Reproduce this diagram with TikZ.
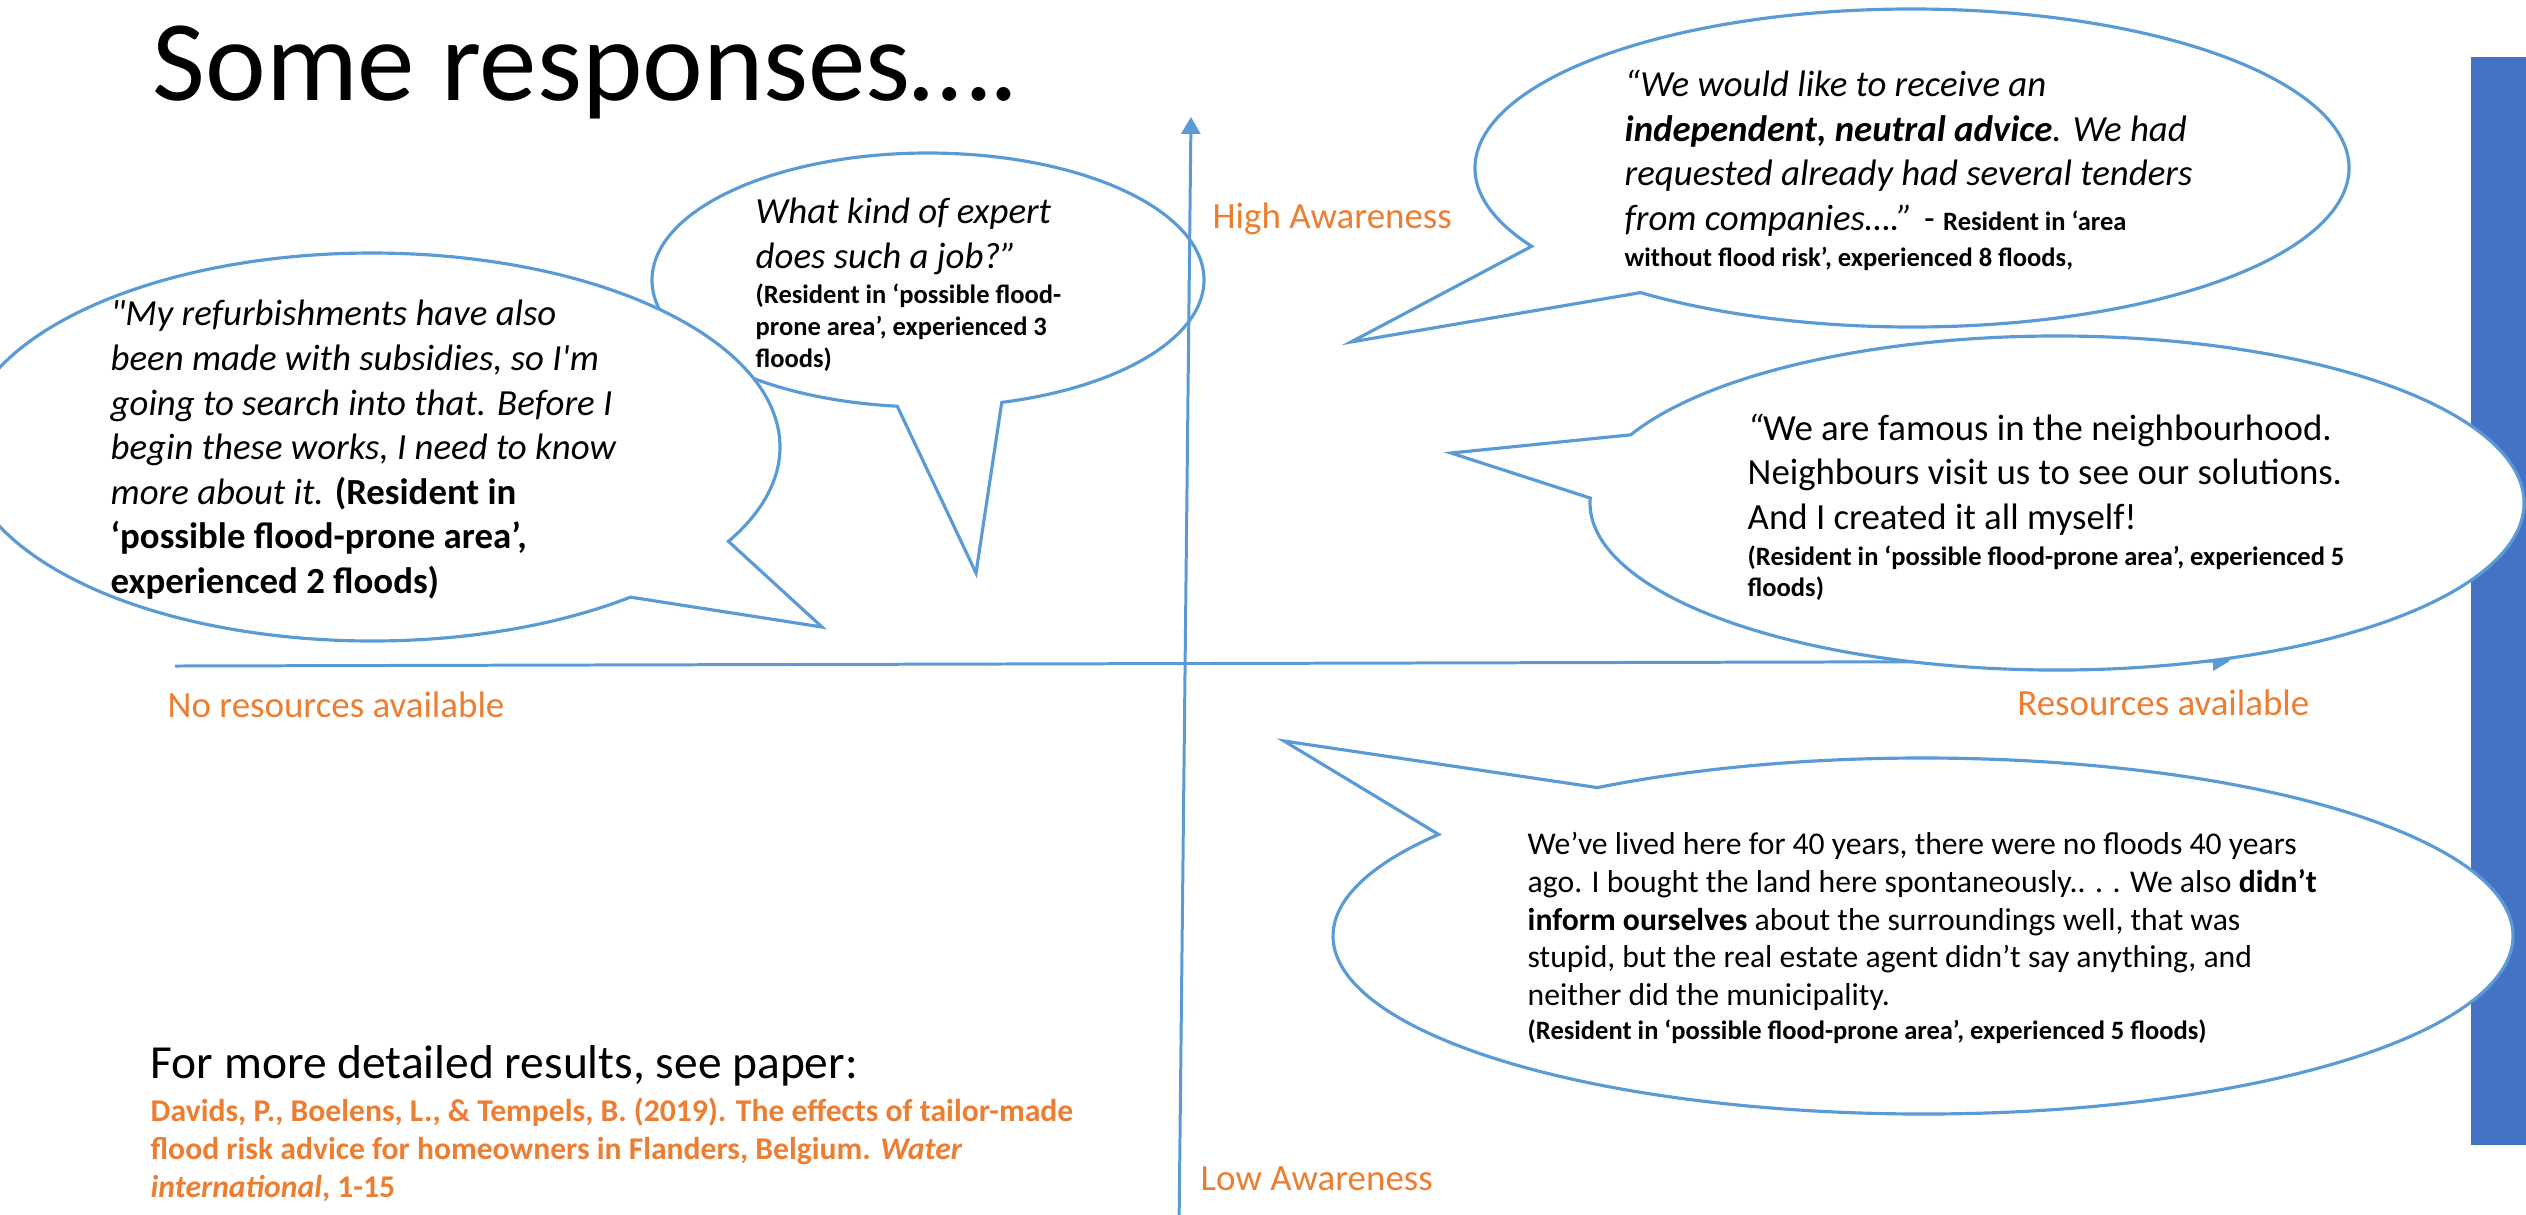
\documentclass[tikz,border=0pt]{standalone}
\usepackage{fontspec}
\setmainfont{Carlito}[Ligatures=TeXOff]
\usepackage{xcolor}
\usepackage{tikz}
\usetikzlibrary{arrows.meta}

\definecolor{bubbleblue}{HTML}{5B9BD5}
\definecolor{labelorange}{HTML}{ED7D31}
\definecolor{barblue}{HTML}{4472C4}

\newcommand{\residentfont}{\bfseries\fontsize{7.54pt}{9.1pt}\selectfont}

\begin{document}
\begin{tikzpicture}[x=0.01cm, y=-0.01cm,
  bubble/.style={draw=bubbleblue, line width=0.9pt, fill=white},
  axis/.style={draw=bubbleblue, line width=0.85pt, -{Triangle[length=4.8pt,width=5.4pt]}},
  quote/.style={anchor=base west, inner sep=0pt, font=\fontsize{10.47pt}{12.7pt}\selectfont},
  story/.style={anchor=base west, inner sep=0pt, font=\fontsize{9pt}{10.8pt}\selectfont},
  paper/.style={anchor=base west, inner sep=0pt, text=labelorange, font=\bfseries\fontsize{9pt}{10.8pt}\selectfont},
  axislabel/.style={anchor=base west, inner sep=0pt, text=labelorange, font=\fontsize{10.5pt}{12.7pt}\selectfont}]

% slide frame
\useasboundingbox (0,0) rectangle (2526,1214);
\clip (0,0) rectangle (2526,1214);

% side bar
\fill[barblue] (2471,57) rectangle (2526,1145);

% bubble that the vertical axis runs over
\draw[bubble] (976,573) -- ([shift={(96.4:276 and 127)}]928,280)
  arc[start angle=96.4, end angle=434.5, x radius=276, y radius=127] -- cycle;

% axes
\coordinate (ylow) at (1179,1230);
\coordinate (yhigh) at (1191,117);
\coordinate (xlow) at (175,666);
\coordinate (xhigh) at (2230,661);
\draw[axis] (ylow) -- (yhigh);
\draw[axis] (xlow) -- (xhigh);

% other bubbles: centre / radii / start / end / tip
\foreach \cx/\cy/\rx/\ry/\sa/\ea/\tx/\ty in {
  372/447/408/194/50.7/389.1/822/627,
  1912/168/437/159/150.5/488.4/1351/342,
  2057/503/467/167/204.1/541.7/1451/453,
  1923/936/590/178/236.5/574.8/1284/741}
  \draw[bubble] (\tx,\ty) -- ([shift={({\sa}:{\rx} and {\ry})}]\cx,\cy)
    arc[start angle=\sa, end angle=\ea, x radius=\rx, y radius=\ry] -- cycle;

% title and axis labels
\node[anchor=base west, inner sep=0pt, font=\fontsize{32.7pt}{39pt}\selectfont] (title) at (152,100) {Some responses….};
\node[axislabel] (highaw) at (1212,228) {High Awareness};
\node[axislabel] (lowaw) at (1200,1190) {Low Awareness};
\node[axislabel] (nores) at (167,717) {No resources available};
\node[axislabel, anchor=base east] (res) at (2310,715) {Resources available};

% refurbishment quote
\foreach \y/\txt in {
  325/{\itshape "My refurbishments have also},
  370/{\itshape been made with subsidies, so I'm},
  415/{\itshape going to search into that. Before I},
  459/{\itshape begin these works, I need to know},
  504/{{\itshape more about it.} \textbf{(Resident in}},
  548/{\textbf{‘possible flood-prone area’,}},
  593/{\textbf{experienced 2 floods)}}}
  \node[quote] (refurb-\y) at (110,\y) {\txt};

% expert quote
\foreach \y/\txt in {223/{What kind of expert}, 268/{does such a job?”}}
  \node[quote, font=\itshape\fontsize{10.47pt}{12.7pt}\selectfont] (expert-\y) at (755,\y) {\txt};
\foreach \y/\txt in {303/{(Resident in ‘possible flood-}, 335/{prone area’, experienced 3}, 367/{floods)}}
  \node[quote, font=\residentfont] (expertref-\y) at (755,\y) {\txt};

% advice quote
\foreach \y/\txt in {
  96/{\itshape “We would like to receive an},
  141/{{\bfseries\itshape independent, neutral advice}{\itshape . We had}},
  185/{\itshape requested already had several tenders},
  230/{{\itshape from companies….” -} {\residentfont Resident in ‘area}},
  266/{\residentfont without flood risk’, experienced 8 floods,}}
  \node[quote] (advice-\y) at (1624,\y) {\txt};

% famous quote
\foreach \y/\txt in {
  440/{{\itshape “}We are famous in the neighbourhood.},
  484/{Neighbours visit us to see our solutions.},
  529/{And I created it all myself!},
  565/{\residentfont (Resident in ‘possible flood-prone area’, experienced 5},
  596/{\residentfont floods)}}
  \node[quote] (famous-\y) at (1747,\y) {\txt};

% forty years quote
\foreach \y/\txt in {
  854/{We’ve lived here for 40 years, there were no floods 40 years},
  892/{ago. I bought the land here spontaneously.. . . We also \textbf{didn’t}},
  930/{\textbf{inform ourselves} about the surroundings well, that was},
  967/{stupid, but the real estate agent didn’t say anything, and},
  1005/{neither did the municipality.},
  1039/{\residentfont (Resident in ‘possible flood-prone area’, experienced 5 floods)}}
  \node[story] (forty-\y) at (1527,\y) {\txt};

% reference
\node[anchor=base west, inner sep=0pt, font=\fontsize{13.5pt}{16pt}\selectfont] (more) at (150,1078) {For more detailed results, see paper:};
\foreach \y/\txt in {
  1121/{Davids, P., Boelens, L., \& Tempels, B. (2019). The effects of tailor-made},
  1159/{flood risk advice for homeowners in Flanders, Belgium. \textit{Water}},
  1197/{\textit{international}, 1-15}}
  \node[paper] (paper-\y) at (150,\y) {\txt};
\end{tikzpicture}
\end{document}
